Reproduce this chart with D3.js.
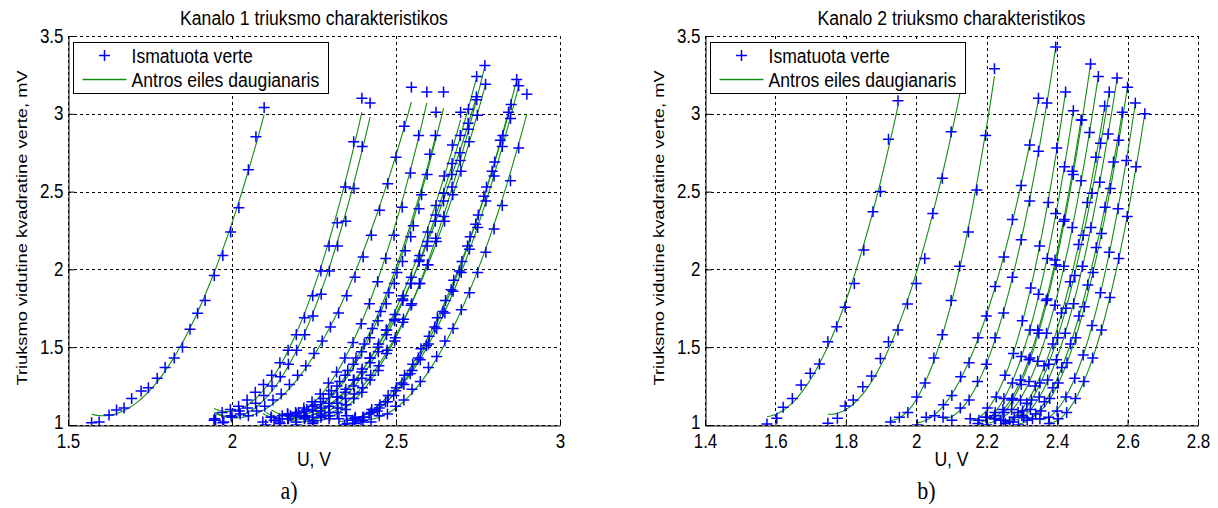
<!DOCTYPE html>
<html>
<head>
<meta charset="utf-8">
<script src="https://cdn.jsdelivr.net/npm/d3@7"></script>
<style>
  body { margin: 0; background: #fff; }
  svg text { font-family: "Liberation Sans", Arial, sans-serif; fill: #000; }
</style>
</head>
<body>
<svg id="fig" width="1218" height="508"></svg>
<script>
// ---------- tick labels and texts ----------
const yTicks = [1, 1.5, 2, 2.5, 3, 3.5];
const xTicks1 = [1.5, 2, 2.5, 3];
const xTicks2 = [1.4, 1.6, 1.8, 2, 2.2, 2.4, 2.6, 2.8];
const titles = ["Kanalo 1 triuksmo charakteristikos", "Kanalo 2 triuksmo charakteristikos"];
const captions = ["a)", "b)"];
const legendLabels = ["Ismatuota verte", "Antros eiles daugianaris"];
const xLabel = "U, V";
const yLabel = "Triuksmo vidutine kvadratine verte, mV";

// ---------- channel 1: measured [U (V), RMS noise (mV)] per sweep ----------
const k1c01 = [[1.572,1.015],[1.595,1.02],[1.625,1.064],[1.648,1.096],[1.671,1.109],[1.694,1.17],[1.723,1.218],[1.745,1.24],[1.772,1.30],[1.796,1.37],[1.824,1.43],[1.849,1.50],[1.872,1.615],[1.895,1.718],[1.918,1.80],[1.946,1.96],[1.972,2.09],[1.996,2.24],[2.021,2.397],[2.05,2.64],[2.073,2.853],[2.098,3.04]];
const k1c02 = [[1.945,1.03],[1.970,1.08],[1.995,1.10],[2.020,1.12],[2.046,1.16],[2.071,1.21],[2.096,1.26],[2.121,1.32],[2.146,1.40],[2.171,1.48],[2.196,1.58],[2.221,1.69],[2.246,1.83],[2.271,1.99],[2.296,2.15],[2.321,2.30],[2.346,2.53],[2.371,2.82],[2.396,3.10]];
const k1c03 = [[1.947,1.04],[1.972,1.015],[1.997,1.06],[2.022,1.09],[2.047,1.11],[2.072,1.14],[2.097,1.19],[2.122,1.25],[2.147,1.31],[2.172,1.39],[2.197,1.48],[2.222,1.58],[2.247,1.70],[2.272,1.84],[2.297,1.99],[2.322,2.15],[2.347,2.31],[2.372,2.52],[2.397,2.79],[2.421,3.07]];
const k1c04 = [[1.950,1.03],[1.975,1.02],[2.000,1.05],[2.025,1.07],[2.050,1.06],[2.075,1.09],[2.100,1.12],[2.125,1.16],[2.150,1.20],[2.175,1.26],[2.200,1.32],[2.225,1.38],[2.250,1.46],[2.275,1.54],[2.300,1.63],[2.325,1.72],[2.350,1.83],[2.375,1.95],[2.400,2.08],[2.425,2.22],[2.450,2.38],[2.475,2.55],[2.500,2.72],[2.525,2.92],[2.547,3.17]];
const k1c05 = [[2.094,1.02],[2.119,1.05],[2.144,1.04],[2.169,1.07],[2.194,1.08],[2.219,1.11],[2.244,1.15],[2.269,1.20],[2.294,1.27],[2.319,1.34],[2.344,1.43],[2.369,1.53],[2.394,1.65],[2.419,1.78],[2.444,1.92],[2.469,2.07],[2.494,2.22],[2.519,2.40],[2.544,2.62],[2.569,2.86],[2.594,3.14]];
const k1c06 = [[2.103,1.00],[2.128,1.03],[2.153,1.06],[2.178,1.06],[2.203,1.08],[2.228,1.10],[2.253,1.13],[2.278,1.17],[2.303,1.22],[2.328,1.28],[2.353,1.35],[2.378,1.43],[2.403,1.52],[2.428,1.62],[2.453,1.73],[2.478,1.85],[2.503,1.98],[2.528,2.12],[2.553,2.28],[2.578,2.48],[2.603,2.74],[2.622,3.01]];
const k1c07 = [[2.120,1.05],[2.145,1.02],[2.170,1.07],[2.195,1.06],[2.220,1.09],[2.245,1.12],[2.270,1.15],[2.295,1.20],[2.320,1.25],[2.345,1.32],[2.370,1.39],[2.395,1.47],[2.420,1.56],[2.445,1.67],[2.470,1.78],[2.495,1.91],[2.520,2.05],[2.545,2.21],[2.570,2.39],[2.595,2.61],[2.620,2.86],[2.645,3.14]];
const k1c08 = [[2.147,1.01],[2.172,1.04],[2.197,1.07],[2.222,1.06],[2.247,1.09],[2.272,1.11],[2.297,1.14],[2.322,1.18],[2.347,1.23],[2.372,1.29],[2.397,1.36],[2.422,1.43],[2.447,1.52],[2.472,1.61],[2.497,1.71],[2.522,1.83],[2.547,1.95],[2.572,2.09],[2.597,2.24],[2.622,2.41],[2.647,2.60],[2.672,2.80],[2.697,3.01]];
const k1c09 = [[2.170,1.04],[2.195,1.02],[2.220,1.06],[2.245,1.05],[2.270,1.09],[2.295,1.12],[2.320,1.18],[2.345,1.21],[2.370,1.29],[2.395,1.34],[2.420,1.43],[2.445,1.50],[2.470,1.61],[2.495,1.68],[2.520,1.81],[2.545,1.91],[2.570,2.05],[2.595,2.15],[2.620,2.31],[2.645,2.44],[2.670,2.61],[2.695,2.75],[2.720,2.94],[2.745,3.11]];
const k1c10 = [[2.196,1.00],[2.221,1.04],[2.246,1.03],[2.271,1.07],[2.296,1.08],[2.321,1.14],[2.346,1.17],[2.371,1.25],[2.396,1.30],[2.421,1.40],[2.446,1.47],[2.471,1.58],[2.496,1.67],[2.521,1.80],[2.546,1.91],[2.571,2.06],[2.596,2.18],[2.621,2.35],[2.646,2.49],[2.671,2.68],[2.696,2.86],[2.721,3.03],[2.746,3.24]];
const k1c11 = [[2.223,1.05],[2.248,1.02],[2.273,1.06],[2.298,1.06],[2.323,1.11],[2.348,1.13],[2.373,1.20],[2.398,1.24],[2.423,1.32],[2.448,1.38],[2.473,1.48],[2.498,1.56],[2.523,1.68],[2.548,1.78],[2.573,1.91],[2.598,2.03],[2.623,2.18],[2.648,2.31],[2.673,2.48],[2.698,2.63],[2.723,2.82],[2.748,2.99],[2.773,3.19]];
const k1c12 = [[2.246,1.01],[2.271,1.05],[2.296,1.04],[2.321,1.08],[2.346,1.10],[2.371,1.17],[2.396,1.21],[2.421,1.29],[2.446,1.35],[2.471,1.46],[2.496,1.54],[2.521,1.66],[2.546,1.77],[2.571,1.91],[2.596,2.03],[2.621,2.20],[2.646,2.34],[2.671,2.53],[2.696,2.70],[2.721,2.90],[2.746,3.09],[2.771,3.31]];
const k1c13 = [[2.326,1.04],[2.351,1.01],[2.376,1.05],[2.401,1.05],[2.426,1.10],[2.451,1.13],[2.476,1.19],[2.501,1.24],[2.526,1.32],[2.551,1.39],[2.576,1.49],[2.601,1.57],[2.626,1.69],[2.651,1.80],[2.676,1.93],[2.701,2.05],[2.726,2.21],[2.751,2.35],[2.776,2.53],[2.801,2.69],[2.826,2.86],[2.851,3.06]];
const k1c14 = [[2.343,1.00],[2.368,1.03],[2.393,1.02],[2.418,1.07],[2.443,1.09],[2.468,1.15],[2.493,1.19],[2.518,1.27],[2.543,1.33],[2.568,1.43],[2.593,1.51],[2.618,1.63],[2.643,1.73],[2.668,1.87],[2.693,1.99],[2.718,2.15],[2.743,2.29],[2.768,2.47],[2.793,2.63],[2.818,2.83],[2.843,3.01],[2.868,3.22]];
const k1c15 = [[2.349,1.06],[2.374,1.04],[2.399,1.05],[2.424,1.08],[2.449,1.11],[2.474,1.15],[2.499,1.22],[2.524,1.26],[2.549,1.35],[2.574,1.42],[2.599,1.52],[2.624,1.62],[2.649,1.72],[2.674,1.86],[2.699,1.98],[2.724,2.13],[2.749,2.27],[2.774,2.44],[2.799,2.60],[2.824,2.79],[2.849,2.97],[2.874,3.18]];
const k1c16 = [[2.374,1.01],[2.399,1.03],[2.424,1.02],[2.449,1.06],[2.474,1.07],[2.499,1.12],[2.524,1.16],[2.549,1.23],[2.574,1.28],[2.599,1.37],[2.624,1.44],[2.649,1.54],[2.674,1.62],[2.699,1.74],[2.724,1.85],[2.749,1.98],[2.774,2.11],[2.799,2.26],[2.824,2.41],[2.849,2.57],[2.874,2.78],[2.899,3.125]];

// ---------- channel 2 ----------
const k2c01 = [[1.576,1.006],[1.604,1.043],[1.622,1.114],[1.648,1.171],[1.673,1.257],[1.699,1.332],[1.725,1.392],[1.749,1.535],[1.774,1.632],[1.798,1.756],[1.824,1.91],[1.851,2.125],[1.877,2.371],[1.898,2.50],[1.921,2.836],[1.948,3.084]];
const k2c02 = [[1.749,1.011],[1.776,1.043],[1.798,1.122],[1.821,1.16],[1.848,1.246],[1.873,1.315],[1.898,1.428],[1.921,1.535],[1.948,1.61],[1.975,1.778],[2.0,1.91],[2.024,2.07],[2.047,2.36],[2.074,2.585],[2.099,2.885],[2.124,3.2]];
const k2c03 = [[1.927,1.02],[1.952,1.05],[1.976,1.08],[2.001,1.18],[2.025,1.27],[2.050,1.43],[2.074,1.58],[2.099,1.80],[2.123,2.02],[2.148,2.24],[2.172,2.51],[2.197,2.86],[2.222,3.29]];
const k2c04 = [[2.003,1.00],[2.028,1.05],[2.052,1.06],[2.077,1.13],[2.101,1.19],[2.126,1.31],[2.150,1.40],[2.175,1.56],[2.199,1.70],[2.224,1.89],[2.249,2.08],[2.273,2.32],[2.298,2.54],[2.322,2.80],[2.347,3.10]];
const k2c05 = [[2.076,1.05],[2.101,1.03],[2.125,1.11],[2.150,1.16],[2.174,1.28],[2.199,1.39],[2.224,1.56],[2.248,1.72],[2.273,1.95],[2.298,2.19],[2.322,2.44],[2.347,2.76],[2.371,3.07],[2.396,3.43]];
const k2c06 = [[2.153,1.04],[2.178,1.03],[2.202,1.11],[2.227,1.18],[2.252,1.32],[2.276,1.46],[2.301,1.67],[2.325,1.88],[2.350,2.15],[2.375,2.43],[2.399,2.78],[2.424,3.14]];
const k2c07 = [[2.175,1.01],[2.200,1.05],[2.224,1.08],[2.249,1.17],[2.273,1.27],[2.298,1.44],[2.323,1.61],[2.347,1.84],[2.372,2.07],[2.396,2.36],[2.421,2.66],[2.446,3.02]];
const k2c08 = [[2.197,1.05],[2.222,1.04],[2.246,1.10],[2.271,1.16],[2.296,1.29],[2.320,1.42],[2.345,1.61],[2.369,1.80],[2.394,2.06],[2.419,2.31],[2.443,2.63],[2.468,2.96]];
const k2c09 = [[2.200,1.00],[2.225,1.04],[2.249,1.08],[2.274,1.17],[2.298,1.26],[2.323,1.43],[2.348,1.59],[2.372,1.81],[2.397,2.03],[2.421,2.32],[2.446,2.61],[2.470,2.96],[2.495,3.32]];
const k2c10 = [[2.222,1.06],[2.247,1.03],[2.271,1.10],[2.296,1.16],[2.320,1.28],[2.345,1.41],[2.370,1.59],[2.394,1.77],[2.419,2.02],[2.443,2.27],[2.468,2.57],[2.492,2.88],[2.517,3.24]];
const k2c11 = [[2.240,1.03],[2.265,1.02],[2.289,1.08],[2.314,1.14],[2.338,1.25],[2.363,1.38],[2.388,1.52],[2.412,1.72],[2.437,1.92],[2.461,2.16],[2.486,2.43],[2.510,2.72],[2.535,3.05]];
const k2c12 = [[2.253,1.01],[2.278,1.05],[2.302,1.09],[2.327,1.16],[2.351,1.27],[2.376,1.39],[2.401,1.56],[2.425,1.75],[2.450,1.96],[2.474,2.22],[2.499,2.49],[2.523,2.81],[2.548,3.14]];
const k2c13 = [[2.275,1.02],[2.300,1.06],[2.324,1.10],[2.349,1.18],[2.373,1.29],[2.398,1.42],[2.423,1.59],[2.447,1.78],[2.472,2.02],[2.496,2.27],[2.521,2.56],[2.545,2.87],[2.570,3.23]];
const k2c14 = [[2.305,1.05],[2.330,1.04],[2.354,1.09],[2.379,1.17],[2.403,1.27],[2.428,1.40],[2.453,1.56],[2.477,1.76],[2.502,1.98],[2.526,2.23],[2.551,2.52],[2.575,2.83],[2.600,3.17]];
const k2c15 = [[2.290,1.00],[2.315,1.03],[2.339,1.07],[2.364,1.15],[2.388,1.24],[2.413,1.37],[2.438,1.52],[2.462,1.70],[2.487,1.90],[2.511,2.14],[2.536,2.40],[2.560,2.69],[2.585,3.01]];
const k2c16 = [[2.351,1.04],[2.376,1.05],[2.400,1.09],[2.425,1.18],[2.450,1.30],[2.474,1.45],[2.499,1.64],[2.523,1.85],[2.548,2.11],[2.573,2.39],[2.597,2.70],[2.622,3.07]];
const k2c17 = [[2.378,1.01],[2.403,1.04],[2.427,1.08],[2.452,1.17],[2.476,1.28],[2.501,1.43],[2.526,1.61],[2.550,1.82],[2.575,2.07],[2.599,2.34],[2.624,2.66],[2.649,3.00]];

const channel1 = [k1c01,k1c02,k1c03,k1c04,k1c05,k1c06,k1c07,k1c08,k1c09,k1c10,k1c11,k1c12,k1c13,k1c14,k1c15,k1c16];
const channel2 = [k2c01,k2c02,k2c03,k2c04,k2c05,k2c06,k2c07,k2c08,k2c09,k2c10,k2c11,k2c12,k2c13,k2c14,k2c15,k2c16,k2c17];

// ---------- layout ----------
const FS = 17;        // tick label font size
const FT = 17.6;      // title / legend font size
const SY = 1.18;      // vertical stretch of the exported figure text
const yTop = 36, yBot = 425;
const panels = [
  { left: 68,  right: 560, domain: [1.5, 3],   ticks: xTicks1, curves: channel1 },
  { left: 705, right: 1198, domain: [1.4, 2.8], ticks: xTicks2, curves: channel2 }
];
const BLUE = "#0000ff", GREEN = "#148c14";

// second-order least-squares polynomial through a sweep
function quadFit(pts) {
  const mx = d3.mean(pts, p => p[0]);
  const S = [0, 0, 0, 0, 0], T = [0, 0, 0];
  for (const [u, v] of pts) {
    const x = u - mx;
    let p = 1;
    for (let k = 0; k < 5; k++) { S[k] += p; if (k < 3) T[k] += p * v; p *= x; }
  }
  const M = [[S[0], S[1], S[2]], [S[1], S[2], S[3]], [S[2], S[3], S[4]]];
  const det = m => m[0][0]*(m[1][1]*m[2][2]-m[1][2]*m[2][1]) - m[0][1]*(m[1][0]*m[2][2]-m[1][2]*m[2][0]) + m[0][2]*(m[1][0]*m[2][1]-m[1][1]*m[2][0]);
  const D = det(M);
  const coef = [0, 1, 2].map(c => det(M.map((row, r) => row.map((val, j) => j === c ? T[r] : val))) / D);
  return u => coef[0] + coef[1] * (u - mx) + coef[2] * (u - mx) * (u - mx);
}

const svg = d3.select("#fig");
const fmt = v => String(v);
const px = v => Math.round(v) + 0.5;

function stretchedText(g, str, x, y, anchor, size, rotate) {
  return g.append("text")
    .attr("transform", `translate(${x},${y}) scale(1,${SY})` + (rotate ? " rotate(-90)" : ""))
    .attr("text-anchor", anchor)
    .style("font-size", size + "px")
    .text(str);
}

const plusPath = "M-5.5,0H5.5M0,-5.5V5.5";
const MARK_W = 1.5;

panels.forEach((P, idx) => {
  const g = svg.append("g");
  const x = d3.scaleLinear().domain(P.domain).range([P.left, P.right]);
  const y = d3.scaleLinear().domain([1, 3.5]).range([yBot, yTop]);
  const cx = (P.left + P.right) / 2;

  // dotted grid
  const grid = g.append("g").attr("stroke", "#000").attr("stroke-width", 1)
    .attr("stroke-dasharray", "3,3").attr("fill", "none");
  grid.selectAll("line.gx").data(P.ticks).join("line")
    .attr("x1", d => px(x(d))).attr("x2", d => px(x(d)))
    .attr("y1", yTop).attr("y2", yBot);
  grid.selectAll("line.gy").data(yTicks).join("line")
    .attr("x1", P.left).attr("x2", P.right)
    .attr("y1", d => px(y(d))).attr("y2", d => px(y(d)));

  // fitted curves, then measured points on top
  const clipId = "clip" + idx;
  g.append("clipPath").attr("id", clipId).append("rect")
    .attr("x", P.left).attr("y", yTop - 8).attr("width", P.right - P.left + 8).attr("height", yBot - yTop + 8);
  const data = g.append("g").attr("clip-path", `url(#${clipId})`);
  const line = d3.line().x(d => x(d[0])).y(d => y(d[1]));
  const fits = data.append("g");
  const marks = data.append("g");
  P.curves.forEach(pts => {
    const f = quadFit(pts);
    const u0 = pts[0][0], u1 = pts[pts.length - 1][0];
    const samples = d3.range(0, 61).map(i => { const u = u0 + (u1 - u0) * i / 60; return [u, f(u)]; });
    fits.append("path").attr("d", line(samples))
      .attr("fill", "none").attr("stroke", GREEN).attr("stroke-width", 1.1);
    marks.append("g").selectAll("path").data(pts).join("path")
      .attr("d", plusPath)
      .attr("transform", d => `translate(${x(d[0])},${y(d[1])})`)
      .attr("stroke", BLUE).attr("stroke-width", MARK_W).attr("fill", "none");
  });

  // axes (ticks point inward)
  const xAxis = g.append("g").attr("transform", `translate(0,${yBot + 0.5})`)
    .call(d3.axisBottom(x).tickValues(P.ticks).tickSizeInner(-6).tickSizeOuter(0).tickFormat(fmt));
  const yAxis = g.append("g").attr("transform", `translate(${P.left + 0.5},0)`)
    .call(d3.axisLeft(y).tickValues(yTicks).tickSizeInner(-6).tickSizeOuter(0).tickFormat(fmt));
  [xAxis, yAxis].forEach(a => {
    a.select(".domain").attr("stroke", "#000");
    a.selectAll(".tick line").attr("stroke", "#000");
  });
  xAxis.selectAll(".tick text")
    .attr("y", null).attr("dy", null)
    .attr("transform", `translate(0,22.5) scale(1,${SY})`)
    .style("font-size", FS + "px").style("font-family", "'Liberation Sans', Arial, sans-serif").attr("fill", "#000");
  yAxis.selectAll(".tick text")
    .attr("x", null).attr("dy", null)
    .attr("transform", d => `translate(-5,${d === 1 ? 3 : 6}) scale(1,${SY})`)
    .style("font-size", FS + "px").style("font-family", "'Liberation Sans', Arial, sans-serif").attr("fill", "#000");

  // texts
  stretchedText(g, titles[idx], cx, 25, "middle", FT);
  stretchedText(g, xLabel, cx, 466, "middle", FT);
  stretchedText(g, yLabel, P.left - 41, 228, "middle", 15.5, true);
  g.append("text")
    .attr("transform", `translate(${cx - 25},499) scale(1,1.1)`)
    .attr("text-anchor", "middle")
    .style("font-family", "'Liberation Serif', 'Times New Roman', serif")
    .style("font-size", "22px")
    .text(captions[idx]);

  // legend
  const lx = P.left + 5.5, ly = 42.5;
  const lg = g.append("g");
  lg.append("rect").attr("x", lx).attr("y", ly).attr("width", 255).attr("height", 51)
    .attr("fill", "#fff").attr("stroke", "#000").attr("stroke-width", 1);
  lg.append("path").attr("d", plusPath).attr("transform", `translate(${lx + 31},${ly + 13})`)
    .attr("stroke", BLUE).attr("stroke-width", MARK_W).attr("fill", "none");
  lg.append("line").attr("x1", lx + 9).attr("x2", lx + 53).attr("y1", ly + 37).attr("y2", ly + 37)
    .attr("stroke", GREEN).attr("stroke-width", 1.3);
  stretchedText(lg, legendLabels[0], lx + 58, ly + 20, "start", FT);
  stretchedText(lg, legendLabels[1], lx + 58, ly + 44, "start", FT);
});
</script>
</body>
</html>
